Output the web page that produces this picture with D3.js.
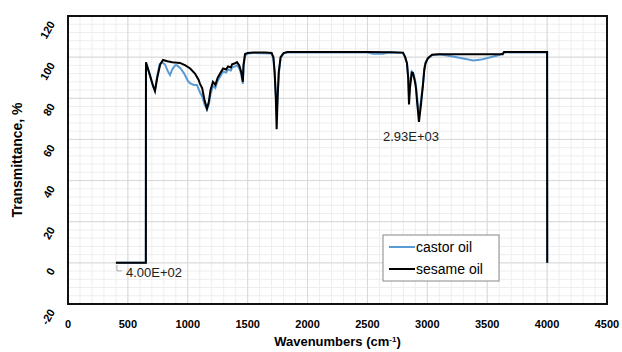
<!DOCTYPE html>
<html>
<head>
<meta charset="utf-8">
<script src="https://cdn.jsdelivr.net/npm/d3@7"></script>
<style>
  body { margin: 0; background: #fff; }
  text { font-family: "Liberation Sans", Arial, sans-serif; }
</style>
</head>
<body>
<script>
const width = 622, height = 352;

// castor oil (blue)
const castorWn = [400, 650, 651, 680, 710, 726, 745, 765, 785, 810, 835, 852, 870, 895, 910, 940, 970, 1000, 1018, 1050, 1077, 1100, 1120, 1140, 1160, 1175, 1190, 1210, 1230, 1250, 1270, 1295, 1320, 1336, 1360, 1370, 1395, 1411, 1430, 1445, 1460, 1465, 1478, 1500, 1545, 1700, 1715, 1725, 1735, 1742, 1750, 1760, 1775, 1800, 1830, 2500, 2545, 2630, 2680, 2797, 2815, 2830, 2840, 2847, 2855, 2870, 2880, 2897, 2905, 2915, 2930, 2945, 2963, 2975, 2985, 3005, 3040, 3100, 3200, 3300, 3383, 3450, 3520, 3600, 3640, 3700, 4000, 4001];
const castorT = [0, 0, 97.3, 92, 86, 84, 91, 96.5, 97.5, 96.5, 93, 91.3, 94, 96, 96, 94.5, 92, 88.5, 87.4, 86.5, 86.5, 83, 81, 77, 74.5, 77, 82, 86, 85, 88.5, 90.5, 93, 92.5, 94, 93.5, 95, 95.5, 96, 94.5, 92, 87, 95, 100.8, 101.8, 102, 101.8, 99, 92, 82, 72, 82, 92, 99.5, 101.8, 102.2, 102.2, 101.6, 101.6, 102.2, 102, 99.8, 97, 91, 81, 87, 93, 92.5, 89, 86, 80, 72, 78, 87, 94.5, 97.5, 99.5, 101, 101.4, 100.4, 99.3, 98.4, 98.8, 99.8, 101, 102.2, 102.4, 102.3, 0];

// sesame oil (black)
const sesameWn = [400, 650, 651, 680, 710, 726, 745, 770, 793, 830, 870, 935, 980, 1020, 1060, 1090, 1102, 1120, 1140, 1160, 1175, 1190, 1210, 1230, 1250, 1270, 1295, 1320, 1336, 1360, 1370, 1395, 1411, 1430, 1445, 1460, 1465, 1478, 1500, 1545, 1600, 1650, 1700, 1715, 1725, 1735, 1742, 1750, 1760, 1775, 1800, 1830, 2000, 2500, 2700, 2797, 2815, 2830, 2840, 2847, 2855, 2870, 2880, 2897, 2905, 2915, 2930, 2945, 2963, 2975, 2985, 3005, 3040, 3100, 3630, 3640, 4000, 4001];
const sesameT = [0, 0, 97.5, 92, 86, 83.5, 90, 96.5, 98.6, 98, 97.5, 97.2, 96, 94.5, 92, 89, 87, 85, 79, 75, 78, 84, 88, 86.5, 90, 92, 94.5, 94, 95.5, 95, 96.5, 97, 97.6, 96, 93, 88, 96, 101.5, 102, 102.3, 102.2, 102.3, 102, 100, 93, 80, 65, 80, 93, 100, 102, 102.5, 102.5, 102.5, 102.4, 102.2, 100, 97, 90, 77, 85, 92.5, 92.3, 88, 85, 78, 68.5, 76, 86, 94, 97, 99.5, 101.2, 101.4, 101.4, 102.5, 102.5, 0];

const xTicks = [0, 500, 1000, 1500, 2000, 2500, 3000, 3500, 4000, 4500];
const yTicks = [-20, 0, 20, 40, 60, 80, 100, 120];

const plotLeft = 68, plotRight = 607, plotTop = 16, plotBottom = 304;
const x = d3.scaleLinear().domain([0, 4500]).range([plotLeft, plotRight]);
const y = d3.scaleLinear().domain([-20, 120]).range([plotBottom, plotTop]);

const svg = d3.select("body").append("svg")
    .attr("width", width)
    .attr("height", height);

// minor grid
svg.append("g")
    .attr("stroke", "#eeeeee")
    .attr("stroke-width", 1)
    .selectAll("line")
    .data(d3.range(0, 4501, 100))
    .enter().append("line")
    .attr("x1", d => x(d)).attr("x2", d => x(d))
    .attr("y1", plotTop).attr("y2", plotBottom);

svg.append("g")
    .attr("stroke", "#eeeeee")
    .attr("stroke-width", 1)
    .selectAll("line")
    .data(d3.range(-20, 121, 4))
    .enter().append("line")
    .attr("x1", plotLeft).attr("x2", plotRight)
    .attr("y1", d => y(d)).attr("y2", d => y(d));

// major grid
svg.append("g")
    .attr("stroke", "#d9d9d9")
    .attr("stroke-width", 1)
    .selectAll("line")
    .data(xTicks)
    .enter().append("line")
    .attr("x1", d => x(d)).attr("x2", d => x(d))
    .attr("y1", plotTop).attr("y2", plotBottom);

svg.append("g")
    .attr("stroke", "#d9d9d9")
    .attr("stroke-width", 1)
    .selectAll("line")
    .data(yTicks)
    .enter().append("line")
    .attr("x1", plotLeft).attr("x2", plotRight)
    .attr("y1", d => y(d)).attr("y2", d => y(d));

const line = d3.line()
    .x(d => x(d[0]))
    .y(d => y(d[1]));

svg.append("path")
    .datum(d3.zip(castorWn, castorT))
    .attr("fill", "none")
    .attr("stroke", "#5b9bd5")
    .attr("stroke-width", 2)
    .attr("d", line);

svg.append("path")
    .datum(d3.zip(sesameWn, sesameT))
    .attr("fill", "none")
    .attr("stroke", "#000")
    .attr("stroke-width", 2)
    .attr("d", line);

// frame
svg.append("rect")
    .attr("x", plotLeft).attr("y", plotTop)
    .attr("width", plotRight - plotLeft).attr("height", plotBottom - plotTop)
    .attr("fill", "none")
    .attr("stroke", "#111")
    .attr("stroke-width", 2);

// x tick labels
svg.append("g")
    .selectAll("text")
    .data(xTicks)
    .enter().append("text")
    .attr("x", d => x(d))
    .attr("y", 328)
    .attr("text-anchor", "middle")
    .attr("font-size", 11)
    .attr("font-weight", "bold")
    .text(d => d);

// y tick labels (slanted)
svg.append("g")
    .selectAll("text")
    .data(yTicks)
    .enter().append("text")
    .attr("transform", d => `translate(52,${y(d) + 6}) rotate(-60)`)
    .attr("text-anchor", "end")
    .attr("dy", "0.35em")
    .attr("font-size", 11)
    .attr("font-weight", "bold")
    .text(d => d);

// axis titles
const xTitle = svg.append("text")
    .attr("x", x(2250))
    .attr("y", 346)
    .attr("text-anchor", "middle")
    .attr("font-size", 13)
    .attr("font-weight", "bold");
xTitle.append("tspan").text("Wavenumbers (cm");
xTitle.append("tspan")
    .attr("baseline-shift", "super")
    .attr("font-size", 8)
    .text("-1");
xTitle.append("tspan").text(")");

svg.append("text")
    .attr("transform", `translate(22,${(plotTop + plotBottom) / 2}) rotate(-90)`)
    .attr("text-anchor", "middle")
    .attr("font-size", 14)
    .attr("font-weight", "bold")
    .text("Transmittance, %");

// data labels
svg.append("path")
    .attr("d", `M${x(400) + 1},${y(0) + 2}V${y(0) + 8}H${x(400) + 6}`)
    .attr("fill", "none")
    .attr("stroke", "#aaa")
    .attr("stroke-width", 1);

svg.append("text")
    .attr("x", x(400) + 10)
    .attr("y", y(0) + 14)
    .attr("font-size", 13)
    .attr("fill", "#222")
    .text("4.00E+02");

svg.append("text")
    .attr("x", x(2930) - 8)
    .attr("y", y(68.5) + 19)
    .attr("text-anchor", "middle")
    .attr("font-size", 13)
    .attr("fill", "#222")
    .text("2.93E+03");

// legend
const legend = svg.append("g").attr("transform", "translate(383,235)");
legend.append("rect")
    .attr("width", 116).attr("height", 46)
    .attr("fill", "#fff")
    .attr("stroke", "#888")
    .attr("stroke-width", 1);

const legendItems = [["castor oil", "#5b9bd5"], ["sesame oil", "#000"]];
const item = legend.selectAll("g.item")
    .data(legendItems)
    .enter().append("g")
    .attr("transform", (d, i) => `translate(0,${12 + i * 22})`);

item.append("line")
    .attr("x1", 6).attr("x2", 32)
    .attr("stroke", d => d[1])
    .attr("stroke-width", 2);

item.append("text")
    .attr("x", 33)
    .attr("dy", "0.35em")
    .attr("font-size", 14)
    .text(d => d[0]);
</script>
</body>
</html>
